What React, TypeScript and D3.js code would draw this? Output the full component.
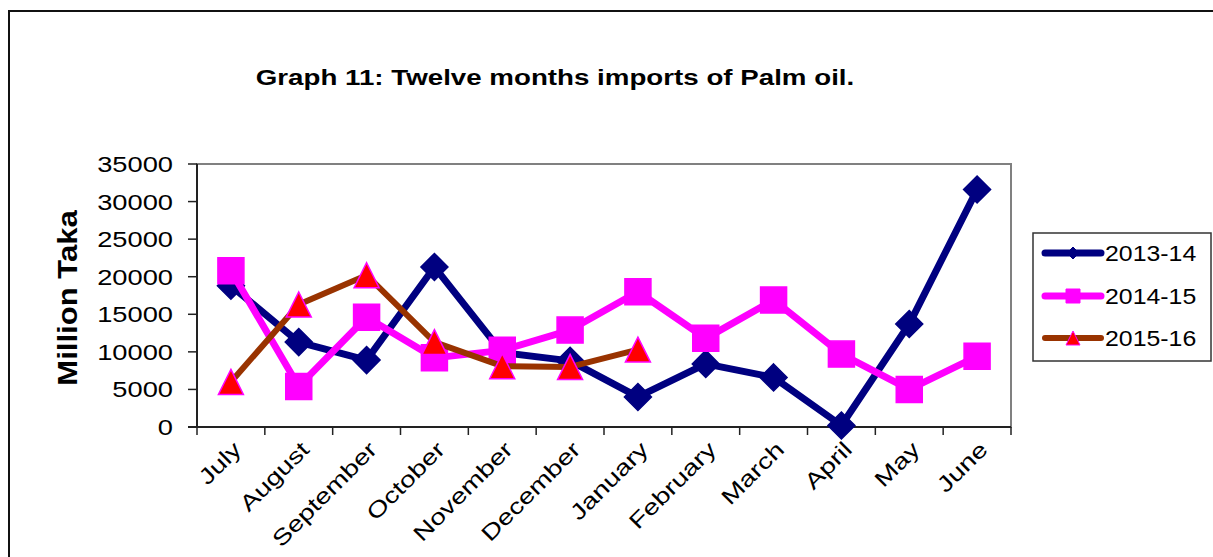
import React from 'react';
import * as d3 from 'd3';

// months on the x axis (fiscal year July..June)
const months = ['July', 'August', 'September', 'October', 'November', 'December',
  'January', 'February', 'March', 'April', 'May', 'June'];
const yTicks = [0, 5000, 10000, 15000, 20000, 25000, 30000, 35000];

// series values, million taka
const s2013 = [18800, 11300, 8900, 21300, 9900, 8800, 4000, 8400, 6600, 200, 13700, 31600];
const s2014 = [20800, 5400, 14600, 9200, 10200, 12900, 18000, 11800, 16900, 9700, 5000, 9400];
const s2015 = [6000, 16300, 20200, 11300, 8100, 8000, 10300];

const seriesNames = ['2013-14', '2014-15', '2015-16'];

const W = 1213;
const H = 557;
const left = 197, right = 1011, top = 164, bottom = 427;
const FONT = 'Arial, "Liberation Sans", sans-serif';

const x = d3.scaleBand().domain(months).range([left, right]);
const y = d3.scaleLinear().domain([0, 35000]).range([bottom, top]);

const diamond = (cx, cy, r) => `M${cx},${cy - r}L${cx + r},${cy}L${cx},${cy + r}L${cx - r},${cy}Z`;
const square = (cx, cy, r) => `M${cx - r},${cy - r}h${2 * r}v${2 * r}h${-2 * r}Z`;
const triangle = (cx, cy, r) => `M${cx},${cy - r}L${cx + r},${cy + r}L${cx - r},${cy + r}Z`;

const styles = [
  { line: '#000080', fill: '#000080', stroke: '#000080', shape: diamond, r: 13.5, lr: 6, w: 7 },
  { line: '#FF00FF', fill: '#FF00FF', stroke: '#FF00FF', shape: square, r: 13, lr: 7, w: 7 },
  { line: '#993300', fill: '#FF0000', stroke: '#FF00FF', shape: triangle, r: 12.5, lr: 7, w: 6 },
];

export default function App() {
  const data = [s2013, s2014, s2015];
  const cx = (i) => x(months[i]) + x.bandwidth() / 2;
  const line = d3.line().x((d, i) => cx(i)).y((d) => y(d));
  const bandEdges = months.map((m) => x(m)).concat([right]);

  return (
    <svg width={W} height={H} style={{ position: 'absolute', left: 0, top: 0, background: '#fff' }}>
      {/* outer frame */}
      <rect x={9} y={11} width={W} height={H} fill="#fff" stroke="#111" strokeWidth={2} />

      <text transform={`translate(555,85) scale(1.26,1)`} textAnchor="middle" fontFamily={FONT}
        fontWeight="bold" fontSize={22} fill="#000">Graph 11: Twelve months imports of Palm oil.</text>

      {/* plot area */}
      <rect x={left} y={top} width={right - left} height={bottom - top} fill="#fff" stroke="#808080" strokeWidth={2} />
      <line x1={left} x2={left} y1={top} y2={bottom} stroke="#222" strokeWidth={2} />
      <line x1={left - 9} x2={right} y1={bottom} y2={bottom} stroke="#222" strokeWidth={2} />

      {yTicks.map((t) => (
        <g key={t}>
          <line x1={left - 9} x2={left} y1={y(t)} y2={y(t)} stroke="#222" strokeWidth={1.5} />
          <text transform={`translate(173,${y(t) + 8}) scale(1.24,1)`} textAnchor="end" fontFamily={FONT}
            fontSize={22} fill="#000">{t}</text>
        </g>
      ))}

      {bandEdges.map((e, i) => (
        <line key={i} x1={e} x2={e} y1={bottom} y2={bottom + 8} stroke="#222" strokeWidth={1.5} />
      ))}

      {months.map((m, i) => (
        <text key={m} transform={`translate(${cx(i) + 1},${bottom + 13}) rotate(-45) scale(1.28,1)`}
          textAnchor="end" dy="0.7em" fontFamily={FONT} fontSize={22} fill="#000">{m}</text>
      ))}

      <text transform={`translate(77,298) rotate(-90) scale(1.15,1)`} textAnchor="middle" fontFamily={FONT}
        fontWeight="bold" fontSize={27} fill="#000">Million Taka</text>

      {/* lines then markers, series order like excel */}
      {data.map((d, k) => (
        <g key={k}>
          <path d={line(d)} fill="none" stroke={styles[k].line} strokeWidth={styles[k].w} strokeLinejoin="round" />
          {d.map((v, i) => (
            <path key={i} d={styles[k].shape(cx(i), y(v), styles[k].r)} fill={styles[k].fill}
              stroke={styles[k].stroke} strokeWidth={1.5} />
          ))}
        </g>
      ))}

      {/* legend */}
      <rect x={1033} y={233} width={178} height={128} fill="#fff" stroke="#333" strokeWidth={1.5} />
      {seriesNames.map((n, k) => {
        const ly = [253, 296, 338][k];
        return (
          <g key={n}>
            <line x1={1045} x2={1101} y1={ly} y2={ly} stroke={styles[k].line} strokeWidth={styles[k].w} strokeLinecap="round" />
            <path d={styles[k].shape(1073, ly, styles[k].lr)} fill={styles[k].fill} stroke={styles[k].stroke} strokeWidth={1} />
            <text transform={`translate(1105,${ly + 8}) scale(1.13,1)`} fontFamily={FONT} fontSize={22} fill="#000">{n}</text>
          </g>
        );
      })}
    </svg>
  );
}
